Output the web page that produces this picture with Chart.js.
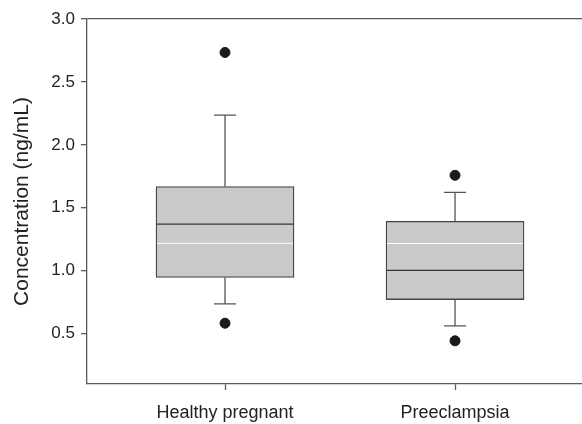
<!DOCTYPE html>
<html>
<head>
<meta charset="utf-8">
<script src="https://cdn.jsdelivr.net/npm/chart.js@4"></script>
<style>
  html, body { margin: 0; padding: 0; background: #fff; }
  #wrap { width: 582px; height: 424px; }
</style>
</head>
<body>
<div id="wrap"><canvas id="box-chart" width="582" height="424"></canvas></div>
<script>
const GROUPS = ["Healthy pregnant", "Preeclampsia"];
const Q1 = [0.946, 0.771];
const Q3 = [1.668, 1.393];
const MEDIANS = [1.371, 1.002];
const MEANS = [1.218, 1.216];
const WHISKER_LOW = [0.737, 0.562];
const WHISKER_HIGH = [2.236, 1.623];
const OUTLIERS = [[0.583, 2.734], [0.443, 1.758]];
const Y_TICKS = [0.5, 1.0, 1.5, 2.0, 2.5, 3.0];

const AXIS_COLOR = "#5a5a5a";
const TEXT_COLOR = "#222";
const FONT = "'Liberation Sans', Arial, sans-serif";

// whiskers, caps, median and mean lines drawn on top of the bars
const boxExtras = {
  id: "boxExtras",
  afterDatasetsDraw(chart) {
    const { ctx, scales } = chart;
    const bars = chart.getDatasetMeta(0).data;
    ctx.save();
    GROUPS.forEach((_, i) => {
      const bar = bars[i];
      const cx = scales.x.getPixelForValue(i + 1);
      const half = bar.width / 2;
      const cap = bar.width * 0.08;
      const yLo = scales.y.getPixelForValue(WHISKER_LOW[i]);
      const yHi = scales.y.getPixelForValue(WHISKER_HIGH[i]);
      const yQ1 = scales.y.getPixelForValue(Q1[i]);
      const yQ3 = scales.y.getPixelForValue(Q3[i]);

      ctx.strokeStyle = "#555";
      ctx.lineWidth = 1.3;
      ctx.beginPath();
      ctx.moveTo(cx, yQ3); ctx.lineTo(cx, yHi);
      ctx.moveTo(cx - cap, yHi); ctx.lineTo(cx + cap, yHi);
      ctx.moveTo(cx, yQ1); ctx.lineTo(cx, yLo);
      ctx.moveTo(cx - cap, yLo); ctx.lineTo(cx + cap, yLo);
      ctx.stroke();

      const yMed = scales.y.getPixelForValue(MEDIANS[i]);
      ctx.strokeStyle = "#333";
      ctx.lineWidth = 1.3;
      ctx.beginPath();
      ctx.moveTo(cx - half + 1, yMed); ctx.lineTo(cx + half - 1, yMed);
      ctx.stroke();

      const yMean = scales.y.getPixelForValue(MEANS[i]);
      ctx.strokeStyle = "#fff";
      ctx.lineWidth = 1;
      ctx.beginPath();
      ctx.moveTo(cx - half + 1, yMean); ctx.lineTo(cx + half - 1, yMean);
      ctx.stroke();
    });
    ctx.restore();
  },
};

const boxData = GROUPS.map((_, i) => ({ x: i + 1, y: [Q1[i], Q3[i]] }));
const outlierData = [];
OUTLIERS.forEach((vals, i) => vals.forEach(v => outlierData.push({ x: i + 1, y: v })));

new Chart(document.getElementById("box-chart").getContext("2d"), {
  type: "bar",
  data: {
    datasets: [
      {
        data: boxData,
        backgroundColor: "#c8c9cb",
        borderColor: "#444",
        borderWidth: 1.3,
        borderSkipped: false,
        barThickness: 138,
      },
      {
        type: "scatter",
        data: outlierData,
        pointRadius: 5,
        pointBackgroundColor: "#1a1a1a",
        pointBorderColor: "#1a1a1a",
      },
    ],
  },
  options: {
    responsive: false,
    animation: false,
    layout: { autoPadding: false, padding: { top: 19, right: 0, bottom: 0, left: 0 } },
    plugins: { legend: { display: false }, tooltip: { enabled: false } },
    scales: {
      x: {
        type: "linear",
        min: 0.4,
        max: 2.552,
        offset: false,
        afterBuildTicks: s => { s.ticks = [{ value: 1 }, { value: 2 }]; },
        afterFit: s => { s.height = 40; s.paddingLeft = 0; s.paddingRight = 0; },
        ticks: {
          callback: v => GROUPS[v - 1],
          color: TEXT_COLOR,
          font: { family: FONT, size: 18 },
          padding: 12,
          maxRotation: 0,
        },
        grid: { offset: false, drawOnChartArea: false, tickLength: 6, tickColor: AXIS_COLOR, tickWidth: 1.3 },
        border: { color: AXIS_COLOR, width: 1.3 },
      },
      y: {
        min: 0.1,
        max: 3.0,
        afterBuildTicks: s => { s.ticks = Y_TICKS.map(v => ({ value: v })); },
        afterFit: s => { s.width = 87; },
        ticks: {
          callback: v => v.toFixed(1),
          color: TEXT_COLOR,
          font: { family: FONT, size: 17 },
          padding: 6,
        },
        grid: {
          color: c => (c.tick && c.tick.value === 3 ? AXIS_COLOR : "rgba(0,0,0,0)"),
          lineWidth: 1.3,
          tickLength: 6,
          tickColor: AXIS_COLOR,
          tickWidth: 1.3,
        },
        border: { color: AXIS_COLOR, width: 1.3 },
        title: {
          display: true,
          text: "Concentration (ng/mL)",
          color: TEXT_COLOR,
          font: { family: FONT, size: 21 },
          padding: { top: 10, bottom: 0 },
        },
      },
    },
  },
  plugins: [boxExtras],
});
</script>
</body>
</html>
